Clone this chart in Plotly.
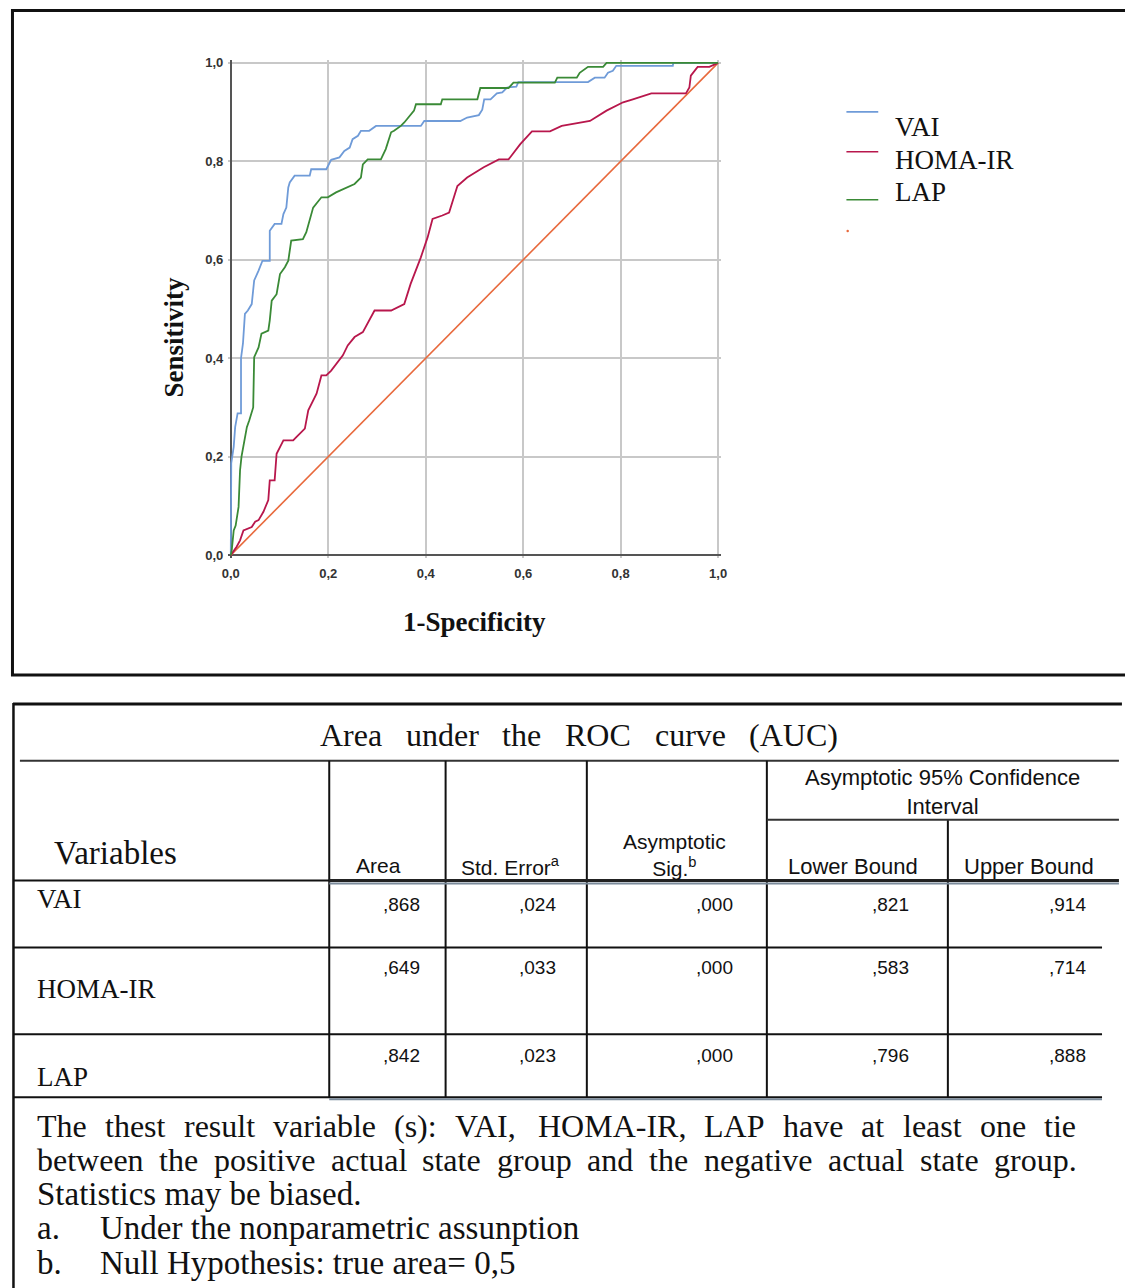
import plotly.graph_objects as go

W, H = 1125, 1288

# ---------------- data ----------------
VAI_FPR = [0, 0.001, 0.006, 0.009, 0.014, 0.021, 0.021, 0.025, 0.029, 0.035,
           0.043, 0.048, 0.057, 0.065, 0.080, 0.080, 0.090, 0.104, 0.108, 0.114,
           0.118, 0.121, 0.131, 0.162, 0.165, 0.196, 0.206, 0.223, 0.233, 0.244,
           0.250, 0.261, 0.267, 0.284, 0.298, 0.390, 0.397, 0.471, 0.485, 0.509,
           0.516, 0.520, 0.533, 0.546, 0.557, 0.567, 0.586, 0.590, 0.733, 0.747,
           0.767, 0.774, 0.784, 0.791, 0.907, 0.908, 1.0]
VAI_TPR = [0, 0.187, 0.220, 0.260, 0.288, 0.288, 0.400, 0.430, 0.490, 0.497,
           0.510, 0.558, 0.578, 0.598, 0.598, 0.659, 0.673, 0.673, 0.693, 0.706,
           0.747, 0.757, 0.771, 0.771, 0.784, 0.784, 0.803, 0.808, 0.821, 0.828,
           0.845, 0.852, 0.862, 0.862, 0.872, 0.872, 0.882, 0.882, 0.889, 0.894,
           0.905, 0.926, 0.926, 0.938, 0.940, 0.950, 0.952, 0.961, 0.961, 0.970,
           0.970, 0.980, 0.984, 0.994, 0.994, 1.0, 1.0]

HOMA_FPR = [0, 0.012, 0.019, 0.026, 0.043, 0.050, 0.057, 0.067, 0.077, 0.080,
            0.090, 0.094, 0.108, 0.128, 0.135, 0.152, 0.159, 0.176, 0.186, 0.196,
            0.206, 0.220, 0.230, 0.240, 0.254, 0.271, 0.284, 0.295, 0.329, 0.342,
            0.356, 0.369, 0.390, 0.404, 0.414, 0.434, 0.448, 0.465, 0.485, 0.519,
            0.550, 0.570, 0.594, 0.618, 0.655, 0.679, 0.710, 0.737, 0.771, 0.805,
            0.825, 0.863, 0.934, 0.941, 0.944, 0.958, 0.982, 1.0]
HOMA_TPR = [0, 0.017, 0.030, 0.050, 0.057, 0.068, 0.071, 0.088, 0.112, 0.152,
            0.152, 0.206, 0.233, 0.233, 0.240, 0.257, 0.294, 0.328, 0.365, 0.365,
            0.375, 0.392, 0.406, 0.426, 0.443, 0.453, 0.477, 0.497, 0.497, 0.504,
            0.510, 0.551, 0.605, 0.646, 0.683, 0.690, 0.696, 0.750, 0.767, 0.788,
            0.804, 0.804, 0.835, 0.861, 0.861, 0.872, 0.877, 0.882, 0.903, 0.920,
            0.926, 0.938, 0.938, 0.950, 0.974, 0.992, 0.992, 1.0]

LAP_FPR = [0, 0.002, 0.006, 0.010, 0.016, 0.019, 0.022, 0.028, 0.033, 0.038,
           0.046, 0.048, 0.057, 0.063, 0.077, 0.080, 0.084, 0.094, 0.101, 0.111,
           0.118, 0.124, 0.148, 0.155, 0.162, 0.169, 0.186, 0.199, 0.216, 0.240,
           0.254, 0.267, 0.271, 0.281, 0.308, 0.318, 0.325, 0.329, 0.335, 0.349,
           0.356, 0.366, 0.376, 0.380, 0.431, 0.434, 0.506, 0.512, 0.570, 0.580,
           0.665, 0.670, 0.710, 0.716, 0.733, 0.764, 0.771, 1.0]
LAP_TPR = [0, 0.010, 0.050, 0.060, 0.098, 0.172, 0.200, 0.233, 0.260, 0.274,
           0.300, 0.402, 0.422, 0.450, 0.456, 0.477, 0.517, 0.530, 0.571, 0.585,
           0.598, 0.639, 0.642, 0.656, 0.683, 0.706, 0.727, 0.727, 0.737, 0.747,
           0.754, 0.767, 0.794, 0.804, 0.804, 0.825, 0.845, 0.859, 0.862, 0.872,
           0.879, 0.892, 0.903, 0.916, 0.916, 0.926, 0.926, 0.949, 0.949, 0.960,
           0.960, 0.970, 0.970, 0.980, 0.992, 0.992, 1.0, 1.0]

REF_X = [0, 1]
REF_Y = [0, 1]

TICK_VALS = [0, 0.2, 0.4, 0.6, 0.8, 1.0]
TICK_TEXT = ["0,0", "0,2", "0,4", "0,6", "0,8", "1,0"]

SERIES_NAMES = ["VAI", "HOMA-IR", "LAP"]
X_TITLE = "1-Specificity"
Y_TITLE = "Sensitivity"

TABLE_TITLE = "Area under the ROC curve (AUC)"
TABLE_VARS = ["VAI", "HOMA-IR", "LAP"]
AREA = [0.868, 0.649, 0.842]
STD_ERR = [0.024, 0.033, 0.023]
SIG = [0.000, 0.000, 0.000]
LOWER = [0.821, 0.583, 0.796]
UPPER = [0.914, 0.714, 0.888]

FOOT_JUSTIFIED = [
    "The thest result variable (s): VAI, HOMA-IR, LAP have at least one tie",
    "between the positive actual state group and the negative actual state group.",
]
FOOT_PLAIN = "Statistics may be biased."
FOOT_NOTES = [("a.", "Under the nonparametric assunption"),
              ("b.", "Null Hypothesis: true area= 0,5")]

# ---------------- helpers ----------------
# mapping from target picture pixels to paper coordinates
OFF = 4.0
SX = 1125.0 / 1133.0
SY = 1288.0 / 1296.0


def X(px):
    return ((px - OFF) / SX) / W


def Y(py):
    return 1 - ((py - OFF) / SY) / H


SERIF = "Liberation Serif, Times New Roman, serif"
SANS = "Liberation Sans, Arial, sans-serif"

COL_VAI = "#6f9bd8"
COL_HOMA = "#b8174c"
COL_LAP = "#3a8a36"
COL_REF = "#e8693c"

TW = {' ': 250, '(': 333, ')': 333, ',': 250, '-': 333, '.': 250, ':': 278,
      '=': 564, '%': 833, 'A': 722, 'B': 667, 'C': 667, 'D': 722, 'E': 611,
      'F': 556, 'G': 722, 'H': 722, 'I': 333, 'L': 611, 'M': 889, 'N': 722,
      'O': 722, 'P': 556, 'R': 667, 'S': 556, 'T': 611, 'U': 722, 'V': 722,
      'a': 444, 'b': 500, 'c': 444, 'd': 500, 'e': 444, 'f': 333, 'g': 500,
      'h': 500, 'i': 278, 'l': 278, 'm': 778, 'n': 500, 'o': 500, 'p': 500,
      'r': 333, 's': 389, 't': 278, 'u': 500, 'v': 500, 'w': 722, 'y': 500}


def tw(s, size):
    return sum(TW.get(c, 500) for c in s) * size / 1000.0


annotations = []
shapes = []


def text(s, px, py, size, family=SERIF, xanchor="left", color="#111",
         bold=False, angle=0):
    if bold:
        s = "<b>" + s + "</b>"
    annotations.append(dict(
        text=s, x=X(px), y=Y(py), xref="paper", yref="paper",
        xanchor=xanchor, yanchor="middle", showarrow=False, borderpad=0,
        textangle=angle, font=dict(family=family, size=size, color=color)))


def justify(line, x0, x1, py, size):
    words = line.split(" ")
    widths = [tw(w, size) for w in words]
    gap = (x1 - x0 - sum(widths)) / (len(words) - 1)
    x = x0
    for w, wd in zip(words, widths):
        text(w, x, py, size)
        x += wd + gap


def hline(x0, x1, py, width=2, color="#111"):
    shapes.append(dict(type="line", xref="paper", yref="paper",
                       x0=X(x0), x1=X(x1), y0=Y(py), y1=Y(py),
                       line=dict(color=color, width=width)))


def vline(px, y0, y1, width=2, color="#111"):
    shapes.append(dict(type="line", xref="paper", yref="paper",
                       x0=X(px), x1=X(px), y0=Y(y0), y1=Y(y1),
                       line=dict(color=color, width=width)))


def fmt(v):
    return ("%.3f" % v)[1:].replace(".", ",")


# ---------------- figure ----------------
fig = go.Figure()
fig.add_trace(go.Scatter(x=REF_X, y=REF_Y, mode="lines",
                         line=dict(color=COL_REF, width=1.6), showlegend=False))
fig.add_trace(go.Scatter(x=VAI_FPR, y=VAI_TPR, mode="lines", name=SERIES_NAMES[0],
                         line=dict(color=COL_VAI, width=1.8), showlegend=False))
fig.add_trace(go.Scatter(x=HOMA_FPR, y=HOMA_TPR, mode="lines", name=SERIES_NAMES[1],
                         line=dict(color=COL_HOMA, width=1.8), showlegend=False))
fig.add_trace(go.Scatter(x=LAP_FPR, y=LAP_TPR, mode="lines", name=SERIES_NAMES[2],
                         line=dict(color=COL_LAP, width=1.8), showlegend=False))

# plot geometry (target pixels of data 0 and 1)
PX0, PX1 = 229, 719
PY0, PY1 = 555, 62
PAD = 0.005
ux = PX1 - PX0
uy = PY0 - PY1
xdom = [X(PX0 - PAD * ux), X(PX1 + PAD * ux)]
ydom = [Y(PY0 + PAD * uy), Y(PY1 - PAD * uy)]

axis_common = dict(
    range=[-PAD, 1 + PAD], tickvals=TICK_VALS, ticktext=TICK_TEXT,
    showgrid=True, gridcolor="#c8c8c8", gridwidth=1.5,
    zeroline=True, zerolinecolor="#555555", zerolinewidth=2,
    showline=False, ticks="", fixedrange=True,
    tickfont=dict(family=SANS, size=13, color="#333333", weight="bold"),
)
fig.update_xaxes(domain=xdom, ticklabelstandoff=6, **axis_common)
fig.update_yaxes(domain=ydom, ticklabelstandoff=4, **axis_common)

# axis titles
text(X_TITLE, 474, 622, 27, bold=True, xanchor="center")
text(Y_TITLE, 172, 337, 27, bold=True, xanchor="center", angle=-90)

# legend
leg_cols = [COL_VAI, COL_HOMA, COL_LAP]
leg_line_y = [111, 151, 199]
leg_text_y = [126, 159, 191]
for name, col, ly, ty in zip(SERIES_NAMES, leg_cols, leg_line_y, leg_text_y):
    hline(848, 880, ly, width=1.6, color=col)
    text(name, 896, ty, 27)
shapes.append(dict(type="circle", xref="paper", yref="paper",
                   x0=X(848), x1=X(850.5), y0=Y(229), y1=Y(231.5),
                   fillcolor=COL_REF, line=dict(width=0)))

# top panel frame
shapes.append(dict(type="rect", xref="paper", yref="paper",
                   x0=X(9.5), x1=X(1140), y0=Y(675), y1=Y(9.5),
                   line=dict(color="#111", width=3)))

# ---------------- table ----------------
hline(10, 1125, 704, width=3)
vline(10.5, 703, 1295, width=2.5)
justify(TABLE_TITLE, 318, 838, 735, 32)
hline(17, 1122, 761, width=2, color="#333")

for cx in [328, 445, 587, 768]:
    vline(cx, 761, 1098, width=2)
vline(950, 820, 1098, width=2)
hline(768, 1122, 820, width=2, color="#333")

# header bottom line
hline(11, 328, 881, width=2)
hline(328, 1122, 881, width=3, color="#222")
hline(328, 1122, 884, width=2, color="#7a8a9a")

text("Variables", 50, 853, 33)
text("Area", 378, 866, 21, family=SANS, xanchor="center")
text("Std. Error<sup>a</sup>", 510, 866, 21, family=SANS, xanchor="center")
text("Asymptotic<br>Sig.<sup>b</sup>", 675, 855, 21, family=SANS, xanchor="center")
text("Asymptotic 95% Confidence<br>Interval", 945, 792, 22, family=SANS,
     xanchor="center")
text("Lower Bound", 855, 867, 22, family=SANS, xanchor="center")
text("Upper Bound", 1032, 867, 22, family=SANS, xanchor="center")

row_val_y = [905, 968, 1056]
row_lab_y = [899, 990, 1078]
col_right = [420, 557, 735, 912, 1090]
for i, var in enumerate(TABLE_VARS):
    text(var, 33, row_lab_y[i], 27)
    vals = [AREA[i], STD_ERR[i], SIG[i], LOWER[i], UPPER[i]]
    for v, xr in zip(vals, col_right):
        text(fmt(v), xr, row_val_y[i], 19, family=SANS, xanchor="right")

hline(11, 1105, 948, width=2)
hline(11, 1105, 1035, width=2)
hline(11, 1105, 1098, width=2)
hline(328, 1105, 1100, width=2, color="#7a8a9a")

# footnotes
foot_y = [1127, 1161, 1195, 1229, 1264]
for line, fy in zip(FOOT_JUSTIFIED, foot_y[:2]):
    justify(line, 33, 1078, fy, 32)
text(FOOT_PLAIN, 33, foot_y[2], 33)
for (lab, note), fy in zip(FOOT_NOTES, foot_y[3:]):
    text(lab, 33, fy, 33)
    text(note, 96, fy, 33)

fig.update_layout(
    width=W, height=H, autosize=False,
    margin=dict(l=0, r=0, t=0, b=0),
    paper_bgcolor="white", plot_bgcolor="white",
    showlegend=False,
    annotations=annotations, shapes=shapes,
)

POST = ("document.documentElement.style.margin='0';"
        "document.documentElement.style.padding='0';"
        "document.body.style.margin='0';document.body.style.padding='0';"
        "document.body.style.overflow='hidden';"
        "var d=document.getElementById('{plot_id}');"
        "d.style.position='absolute';d.style.left='0px';d.style.top='0px';")

fig.write_html("out.html", include_plotlyjs=True, config={"displayModeBar": False},
               post_script=POST)
